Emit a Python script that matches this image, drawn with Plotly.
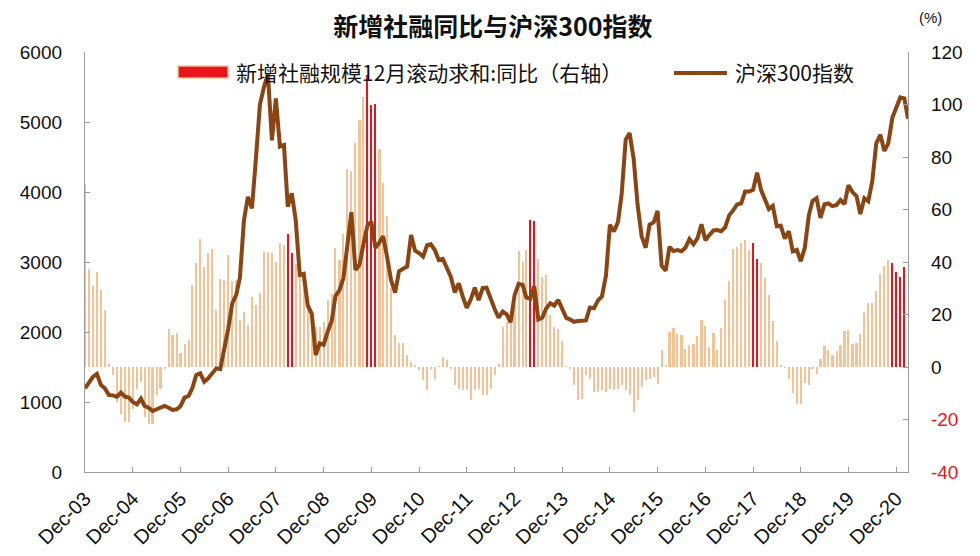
import pandas as pd
import plotly.graph_objects as go

# ---------------- data ----------------
months = pd.date_range("2003-12-01", periods=208, freq="MS")

# CSI 300 index, monthly close (left axis)
csi300 = [
    1195,
    1290, 1362, 1400, 1243, 1195, 1100, 1095, 1076, 1133, 1076, 1062, 1000,
    967, 1048, 943, 919, 871, 895, 905, 943, 919, 886, 895, 940,
    1062, 1086, 1195, 1386, 1410, 1290, 1338, 1410, 1481, 1470, 1743, 2041,
    2407, 2530, 2781, 3600, 3930, 3767, 4471, 5250, 5500, 5688, 4737, 5338,
    4650, 4670, 3790, 3981, 3600, 2814, 2830, 2380, 2260, 1671, 1838, 1817,
    2005, 2160, 2512, 2600, 2767, 3260, 3712, 2886, 2960, 3250, 3520, 3575,
    3204, 3281, 3368, 3067, 2738, 2564, 2868, 2903, 2935, 3385, 3162, 3128,
    3077, 3239, 3253, 3171, 3028, 3044, 2933, 2790, 2565, 2695, 2505, 2346,
    2464, 2634, 2455, 2626, 2632, 2461, 2332, 2204, 2293, 2254, 2139, 2523,
    2688, 2673, 2495, 2475, 2653, 2177, 2203, 2339, 2410, 2378, 2458, 2331,
    2202, 2178, 2146, 2158, 2161, 2165, 2350, 2338, 2451, 2508, 2809, 3533,
    3435, 3572, 3966, 4749, 4841, 4473, 3816, 3366, 3203, 3534, 3566, 3731,
    2946, 2877, 3218, 3156, 3169, 3154, 3204, 3327, 3253, 3336, 3539, 3310,
    3387, 3452, 3456, 3439, 3493, 3666, 3737, 3822, 3837, 4006, 4006, 4030,
    4275, 4023, 3898, 3756, 3802, 3510, 3517, 3334, 3438, 3153, 3173, 3011,
    3202, 3670, 3872, 3913, 3630, 3825, 3836, 3799, 3814, 3886, 3828, 4097,
    3999, 3940, 3686, 3912, 3868, 4163, 4695, 4817, 4587, 4695, 5059, 5211,
    5351, 5336, 5048,
]

# New social financing, 12-month rolling sum, YoY % (right axis)
tsf_yoy = [
    69.6,
    37.2, 31.0, 36.1, 29.5, 21.8, 1.0, -3.2, -13.3, -17.8, -21.0, -21.0, -15.9,
    -8.3, -5.7, -19.0, -21.6, -21.6, -10.8, -8.3, -0.6, 14.6, 12.1, 13.0, 5.3,
    8.6, 10.4, 31.4, 39.7, 48.6, 38.1, 43.6, 44.8, 21.8, 33.7, 33.3, 42.5,
    32.6, 33.0, 18.0, 21.0, 15.9, 26.7, 23.5, 28.3, 44.0, 43.8, 43.4, 39.9,
    47.2, 46.3, 50.5, 43.6, 39.4, 36.8, 35.6, 24.1, 20.3, 15.2, 15.2, 17.1,
    25.7, 27.9, 45.5, 40.9, 50.8, 75.6, 74.7, 85.3, 94.0, 103.0, 111.2, 99.8,
    100.2, 83.2, 70.0, 57.4, 30.0, 12.1, 9.1, 9.1, 4.5, 2.0, 0.5, -1.0,
    -5.1, -8.9, -0.6, -4.4, 0.3, 3.8, 2.5, -0.6, -7.0, -8.3, -8.9, -8.9,
    -12.7, -8.9, -8.3, -10.8, -10.8, -8.3, -3.0, 1.0, 15.2, 17.1, 20.3, 23.5,
    44.2, 40.0, 44.7, 55.9, 55.6, 41.3, 34.3, 34.9, 20.0, 15.2, 14.6, 9.9,
    0.3, -0.6, -7.0, -12.4, -12.1, -3.2, -4.4, -9.5, -9.5, -8.9, -9.5, -8.3,
    -8.9, -8.3, -7.0, -8.9, -10.8, -17.1, -12.7, -7.6, -5.1, -4.4, -3.8, -6.3,
    6.3, 0.6, 13.3, 14.9, 12.4, 12.1, 7.0, 8.3, 8.9, 11.7, 17.8, 15.6,
    7.6, 13.0, 6.3, 14.9, 25.4, 32.6, 45.1, 45.7, 47.2, 48.5, 44.4, 47.2,
    41.3, 39.6, 33.9, 27.3, 17.4, 9.8, 0.6, -0.3, -4.4, -9.9, -14.0, -14.0,
    -6.1, -7.0, -0.8, -2.5, 2.9, 7.9, 6.6, 4.4, 6.0, 8.5, 13.7, 14.2,
    8.6, 9.3, 12.4, 21.0, 24.4, 24.5, 28.8, 35.6, 38.3, 40.9, 39.6, 36.1,
    34.3, 38.1, None,
]

highlight_months = ["2008-03", "2008-04", "2009-11", "2009-12", "2010-01",
                    "2013-04", "2013-05", "2017-12", "2018-01",
                    "2020-11", "2020-12", "2021-01", "2021-02"]

tick_dates = pd.date_range("2003-12-01", "2020-12-01", freq="12MS")
tick_labels = [d.strftime("Dec-%y") for d in tick_dates]

left_ticks = [0, 1000, 2000, 3000, 4000, 5000, 6000]
right_ticks = [-40, -20, 0, 20, 40, 60, 80, 100, 120]

name_bar = "新增社融规模12月滚动求和:同比（右轴）"
name_line = "沪深300指数"

# ---------------- style ----------------
PEACH = "#F5C296"
RED = "#E8141B"
BROWN = "#8B4513"
AXIS = "#9A9A9A"
TICKFONT = dict(family="Liberation Sans, Arial", size=19, color="#111")
XTICKFONT = dict(family="Liberation Sans, Arial", size=20, color="#111")

# page body has an 8px margin; the figure is sized so it fits the window
W, H = 972, 548

bar_colors = [RED if d.strftime("%Y-%m") in highlight_months else PEACH for d in months]

fig = go.Figure()
fig.add_trace(go.Bar(
    x=months, y=tsf_yoy, name=name_bar, yaxis="y",
    marker=dict(color=bar_colors, line=dict(width=0)),
    width=16 * 86400000, showlegend=False,
))
fig.add_trace(go.Scatter(
    x=months, y=csi300, name=name_line, yaxis="y2", mode="lines",
    line=dict(color=BROWN, width=4), showlegend=False,
))

right_text = [f"<span style='color:{RED}'>{v}</span>" if v < 0 else str(v) for v in right_ticks]

fig.update_layout(
    width=W, height=H,
    margin=dict(l=77, r=72, t=44, b=84, autoexpand=False),
    paper_bgcolor="white", plot_bgcolor="white",
    bargap=0,
    title=dict(text="<b>新增社融同比与沪深300指数</b>", x=485 / W, xanchor="center",
               y=1 - 19 / H, yanchor="middle", yref="container",
               font=dict(family="Noto Sans CJK SC", size=25, color="#111")),
    xaxis=dict(
        type="date", range=["2003-12-01", "2021-03-01"],
        tickvals=tick_dates, ticktext=tick_labels, tickangle=-45,
        ticks="inside", ticklen=5, tickcolor=AXIS,
        showline=True, linecolor=AXIS, linewidth=1.3,
        showgrid=False, zeroline=False, tickfont=XTICKFONT,
        ticklabelstandoff=6, automargin=False,
    ),
    yaxis=dict(
        side="right", range=[-40, 120], tickvals=right_ticks, ticktext=right_text,
        ticks="inside", ticklen=5, tickcolor=AXIS,
        showline=True, linecolor=AXIS, linewidth=1.3,
        showgrid=False, zeroline=False, tickfont=TICKFONT,
        ticklabelstandoff=18, automargin=False,
    ),
    yaxis2=dict(
        side="left", overlaying="y", range=[0, 6000], tickvals=left_ticks,
        ticks="inside", ticklen=5, tickcolor=AXIS,
        showline=True, linecolor=AXIS, linewidth=1.3,
        showgrid=False, zeroline=False, tickfont=TICKFONT,
        ticklabelstandoff=18, automargin=False,
    ),
)

# custom legend (swatches as shapes, texts as annotations)
def px(x):
    return (x - 85) / 823

def py(y):
    return (472 - y) / 420

fig.add_shape(type="rect", xref="paper", yref="paper",
              x0=px(178), x1=px(228), y0=py(78), y1=py(66),
              fillcolor=RED, line=dict(color=PEACH, width=1.5))
fig.add_annotation(xref="paper", yref="paper", x=px(234), y=py(72),
                   xanchor="left", yanchor="middle", showarrow=False, text=name_bar,
                   font=dict(family="Noto Sans CJK SC", size=21, color="#111"))
fig.add_shape(type="line", xref="paper", yref="paper",
              x0=px(674), x1=px(727), y0=py(73), y1=py(73),
              line=dict(color=BROWN, width=4))
fig.add_annotation(xref="paper", yref="paper", x=px(733), y=py(72),
                   xanchor="left", yanchor="middle", showarrow=False, text=name_line,
                   font=dict(family="Noto Sans CJK SC", size=21, color="#111"))
fig.add_annotation(xref="paper", yref="paper", x=px(931), y=py(17),
                   xanchor="center", yanchor="middle", showarrow=False, text="(%)",
                   font=dict(family="Liberation Sans, Arial", size=15, color="#111"))

fig.write_html("out.html")
